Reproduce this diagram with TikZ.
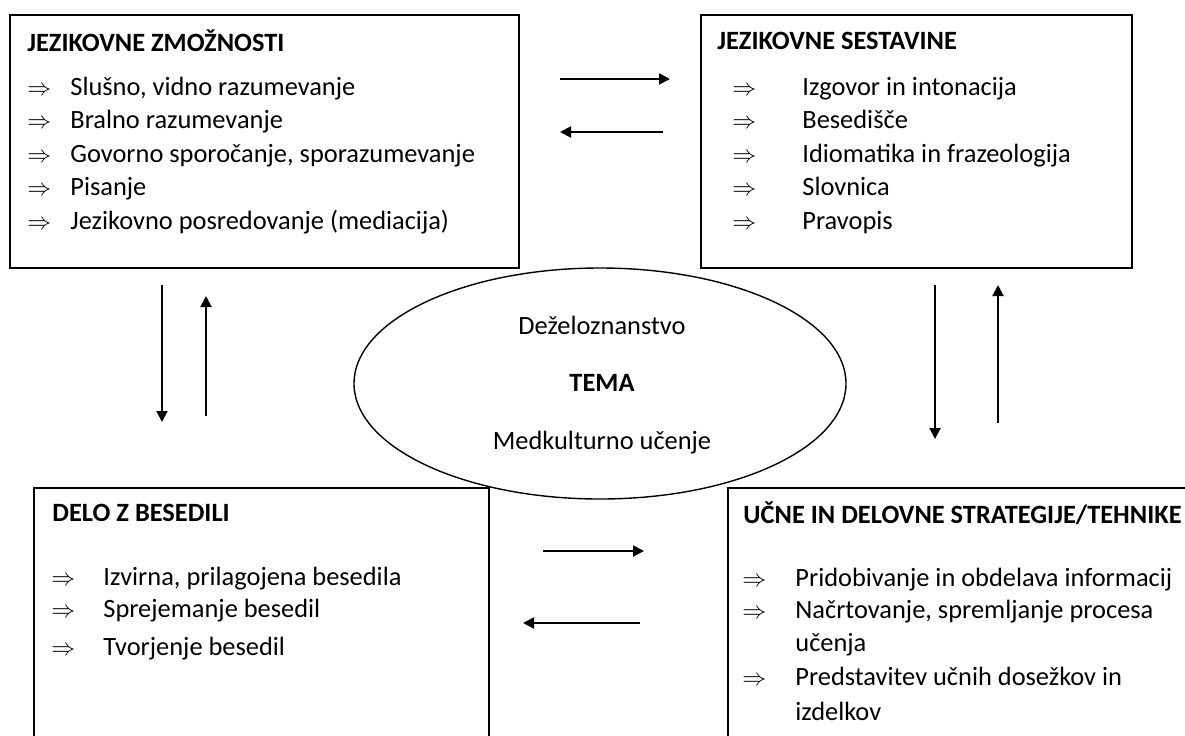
\documentclass[tikz,border=0pt]{standalone}
\usepackage{fontspec}
\setmainfont{Carlito}
\usetikzlibrary{arrows.meta,shapes.geometric}

\tikzset{
    box/.style={draw, line width=1pt, rectangle, anchor=north west, inner sep=0pt},
    item/.style={anchor=base west, inner sep=0pt},
    head/.style={anchor=base west, inner sep=0pt, font=\fontsize{13.2}{16}\selectfont\bfseries},
    link/.style={-{Triangle[length=5.5pt,width=5.5pt]}, line width=1pt},
}
\newcommand{\impl}{{\fontsize{12.5}{12}\selectfont$\Rightarrow$}}

\begin{document}
\begin{tikzpicture}[x=0.5pt, y=-0.5pt, every node/.style={font=\fontsize{13.2}{16}\selectfont}]

    \useasboundingbox (0,0) rectangle (1185,735);
    \clip (0,0) rectangle (1185,735);

    \begin{scope}
        \node[box, minimum width=254.5pt, minimum height=126.5pt] (zm) at (9,14) {}; % box
        \node[head] (zmh) at (27,51) {JEZIKOVNE ZMOŽNOSTI}; % title
        \node[item] (zmi1) at (27,95) {\impl};  \node[item] (zmt1) at (70,95) {Slušno, vidno razumevanje};
        \node[item] (zmi2) at (27,128) {\impl}; \node[item] (zmt2) at (70,128) {Bralno razumevanje};
        \node[item] (zmi3) at (27,162) {\impl}; \node[item] (zmt3) at (70,162) {Govorno sporočanje, sporazumevanje};
        \node[item] (zmi4) at (27,195) {\impl}; \node[item] (zmt4) at (70,195) {Pisanje};
        \node[item] (zmi5) at (27,229) {\impl}; \node[item] (zmt5) at (70,229) {Jezikovno posredovanje (mediacija)};
    \end{scope}

    \begin{scope}
        \node[box, minimum width=215.5pt, minimum height=126.5pt] (ses) at (700,14) {}; % box
        \node[head] (sesh) at (717,49) {JEZIKOVNE SESTAVINE}; % title
        \node[item] (sesi1) at (732,95) {\impl};  \node[item] (sest1) at (802,95) {Izgovor in intonacija};
        \node[item] (sesi2) at (732,128) {\impl}; \node[item] (sest2) at (802,128) {Besedišče};
        \node[item] (sesi3) at (732,162) {\impl}; \node[item] (sest3) at (802,162) {Idiomatika in frazeologija};
        \node[item] (sesi4) at (732,195) {\impl}; \node[item] (sest4) at (802,195) {Slovnica};
        \node[item] (sesi5) at (732,229) {\impl}; \node[item] (sest5) at (802,229) {Pravopis};
    \end{scope}

    \begin{scope}
        \node[ellipse, draw, line width=0.7pt, inner sep=0pt, minimum width=246pt, minimum height=115.5pt] (tema) at (600,383.5) {}; % theme
        \node (temat1) at (602,325) {Deželoznanstvo};
        \node[font=\fontsize{13.2}{16}\selectfont\bfseries] (temat2) at (602,383) {TEMA};
        \node (temat3) at (602,443) {Medkulturno učenje};
    \end{scope}

    \begin{scope}
        \node[box, minimum width=227.5pt, minimum height=160pt] (bes) at (33,487) {}; % box
        \node[head] (besh) at (52,521) {DELO Z BESEDILI}; % title
        \node[item] (besi1) at (51,585) {\impl}; \node[item] (best1) at (103,585) {Izvirna, prilagojena besedila};
        \node[item] (besi2) at (51,617) {\impl}; \node[item] (best2) at (103,617) {Sprejemanje besedil};
        \node[item] (besi3) at (51,655) {\impl}; \node[item] (best3) at (103,655) {Tvorjenje besedil};
    \end{scope}

    \begin{scope}
        \node[box, minimum width=250pt, minimum height=160pt] (str) at (727,487) {}; % box
        \node[head] (strh) at (743,523) {UČNE IN DELOVNE STRATEGIJE/TEHNIKE}; % title
        \node[item] (stri1) at (742,586) {\impl}; \node[item] (strt1) at (795,586) {Pridobivanje in obdelava informacij};
        \node[item] (stri2) at (742,618) {\impl}; \node[item] (strt2) at (795,618) {Načrtovanje, spremljanje procesa};
        \node[item] (strt2b) at (795,651) {učenja};
        \node[item] (stri3) at (742,685) {\impl}; \node[item] (strt3) at (795,685) {Predstavitev učnih dosežkov in};
        \node[item] (strt3b) at (795,720) {izdelkov};
    \end{scope}

    % Arrow ends
    \coordinate (zsA) at (560,79);  \coordinate (zsB) at (670,79);
    \coordinate (szA) at (663,132); \coordinate (szB) at (560,132);
    \coordinate (zbA) at (162,285); \coordinate (zbB) at (162,422);
    \coordinate (bzA) at (206,416); \coordinate (bzB) at (206,296);
    \coordinate (ssA) at (935,285); \coordinate (ssB) at (935,439);
    \coordinate (tsA) at (998,423); \coordinate (tsB) at (998,285);
    \coordinate (btA) at (543,551); \coordinate (btB) at (644,551);
    \coordinate (tbA) at (640,623); \coordinate (tbB) at (523,623);

    \draw[link] (zsA) -- (zsB);
    \draw[link] (szA) -- (szB);
    \draw[link] (zbA) -- (zbB);
    \draw[link] (bzA) -- (bzB);
    \draw[link] (ssA) -- (ssB);
    \draw[link] (tsA) -- (tsB);
    \draw[link] (btA) -- (btB);
    \draw[link] (tbA) -- (tbB);

\end{tikzpicture}
\end{document}
